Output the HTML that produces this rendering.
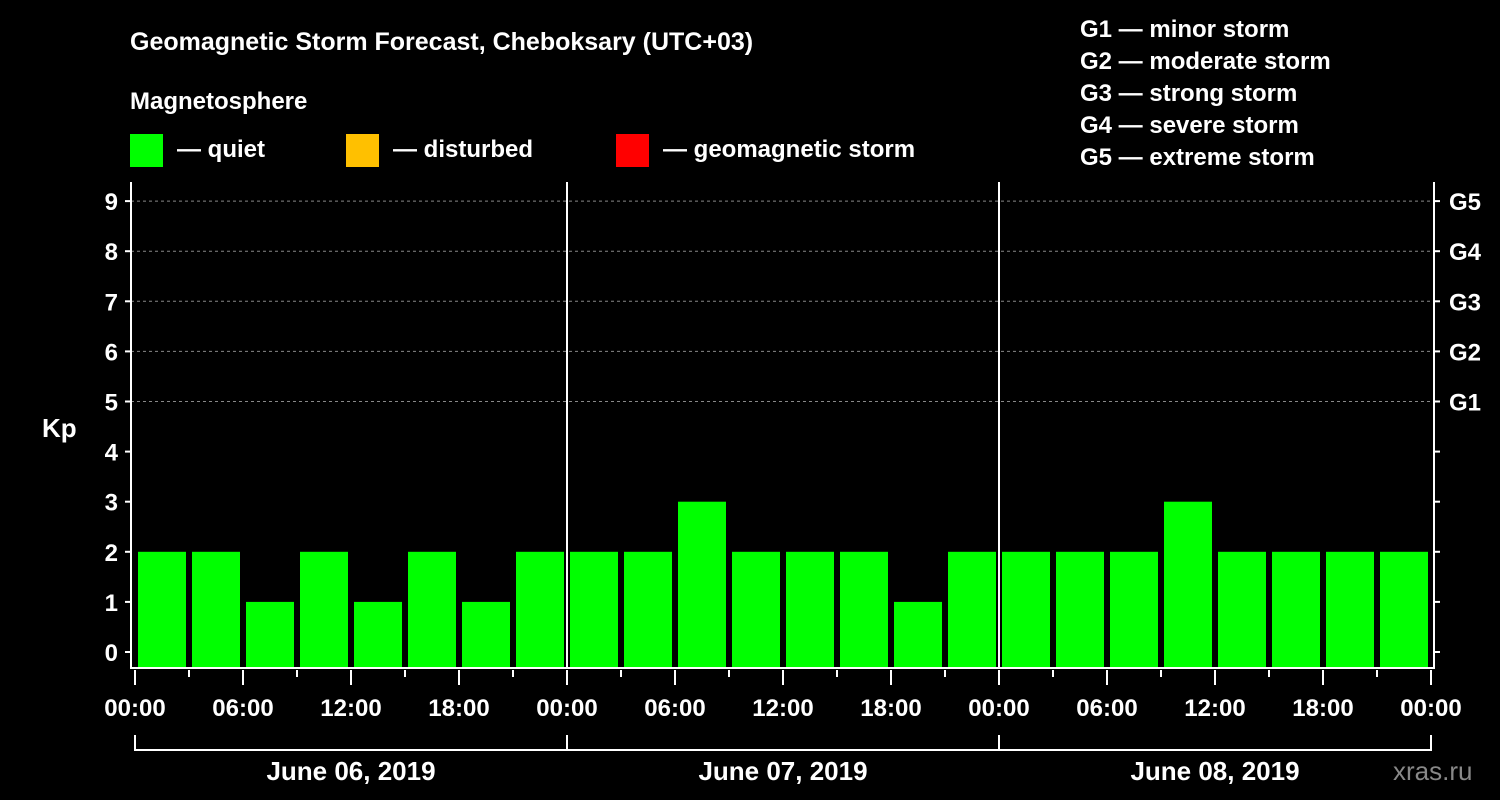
<!DOCTYPE html>
<html><head><meta charset="utf-8"><style>
body{margin:0;background:#000;width:1500px;height:800px;overflow:hidden}
svg{display:block;font-family:"Liberation Sans",Arial,sans-serif;font-weight:bold}
</style></head><body>
<svg id="c" width="1500" height="800">
<text x="130" y="50" fill="#fff" font-size="25">Geomagnetic Storm Forecast, Cheboksary (UTC+03)</text>
<text x="130" y="109" fill="#fff" font-size="24">Magnetosphere</text>
<g><rect x="130" y="134" width="33" height="33" fill="#00ff00"/><text x="177" y="157" fill="#fff" font-size="24">— quiet</text></g>
<g><rect x="346" y="134" width="33" height="33" fill="#ffc000"/><text x="393" y="157" fill="#fff" font-size="24">— disturbed</text></g>
<g><rect x="616" y="134" width="33" height="33" fill="#ff0000"/><text x="663" y="157" fill="#fff" font-size="24">— geomagnetic storm</text></g>
<g fill="#fff" font-size="24">
<text x="1080" y="37">G1 — minor storm</text><text x="1080" y="69">G2 — moderate storm</text><text x="1080" y="101">G3 — strong storm</text><text x="1080" y="133">G4 — severe storm</text><text x="1080" y="165">G5 — extreme storm</text></g>
<text x="42" y="437" fill="#fff" font-size="26">Kp</text>
<text x="1393" y="780" fill="#888" font-size="26" font-weight="normal">xras.ru</text>
<g id="grid"></g><g id="bars"></g><g id="axes"></g>
</svg>
<script>
const kpValues=[2,2,1,2,1,2,1,2, 2,2,3,2,2,2,1,2, 2,2,2,3,2,2,2,2];
const dayLabels=["June 06, 2019","June 07, 2019","June 08, 2019"];
const yTicks=[0,1,2,3,4,5,6,7,8,9];
const gLabels=["","","","","","G1","G2","G3","G4","G5"];
const hourLabels=["00:00","06:00","12:00","18:00"];
const NS="http://www.w3.org/2000/svg";
const X0=135,dayW=432,slotW=54,plotL=131,plotR=1434,plotT=182,plotB=668;
const y=v=>652-v*50.1;
const x=i=>X0+i*slotW;
function mk(t,a,p){const e=document.createElementNS(NS,t);for(const k in a)e.setAttribute(k,a[k]);(p||document.getElementById('axes')).appendChild(e);return e;}
const grid=document.getElementById('grid'),bars=document.getElementById('bars');
yTicks.forEach(v=>{
 if(v>=5){const l=mk('line',{x1:plotL,x2:plotR,y1:y(v),y2:y(v),stroke:'#888','stroke-dasharray':'3,3','stroke-width':1},grid);
 
 }
 const t=mk('line',{x1:plotL-6,x2:plotL,y1:y(v),y2:y(v),stroke:'#fff','stroke-width':2});
 
 
 mk('line',{x1:plotR,x2:plotR+6,y1:y(v),y2:y(v),stroke:'#fff','stroke-width':2});
 const tl=mk('text',{x:plotL-13,y:y(v)+9,fill:'#fff','font-size':24,'text-anchor':'end'});tl.textContent=v;
 
 
 if(gLabels[v]){const g=mk('text',{x:plotR+15,y:y(v)+9,fill:'#fff','font-size':24});g.textContent=gLabels[v];
 
 }
});
kpValues.forEach((v,i)=>{
 const c=v>=5?'#ff0000':(v>=4?'#ffc000':'#00ff00');
 const top=y(v);
 const r=mk('rect',{x:x(i)+3,y:top,width:slotW-6,height:plotB-top,fill:c},bars);
 
 
});
for(let d=1;d<dayLabels.length;d++){const l=mk('line',{x1:X0+d*dayW,x2:X0+d*dayW,y1:plotT,y2:plotB,stroke:'#fff','stroke-width':2});
 
 }
const fr=mk('path',{d:`M${plotL},${plotT}V${plotB}H${plotR}V${plotT}`,fill:'none',stroke:'#fff','stroke-width':2});


for(let i=0;i<=kpValues.length;i++){
 const major=i%2==0;
 mk('line',{x1:x(i),x2:x(i),y1:plotB+2,y2:plotB+(major?17:9),stroke:'#fff','stroke-width':2});
 if(major){const t=mk('text',{x:x(i),y:716,fill:'#fff','font-size':24,'text-anchor':'middle'});t.textContent=hourLabels[(i/2)%4];
 
 }
}
dayLabels.forEach((lab,d)=>{
 const a=X0+d*dayW,b=a+dayW;
 const p=mk('path',{d:`M${a},735V750H${b}`+(d==dayLabels.length-1?'V735':''),fill:'none',stroke:'#fff','stroke-width':2});
 
 
 const t=mk('text',{x:a+dayW/2,y:780,fill:'#fff','font-size':26,'text-anchor':'middle'});t.textContent=lab;
 
 
});
</script>
</body></html>
